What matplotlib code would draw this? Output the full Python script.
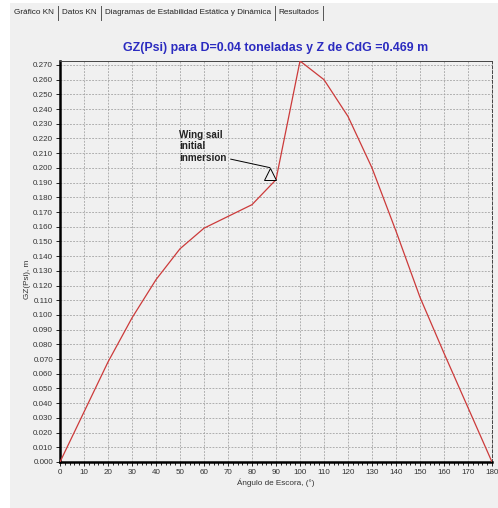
import matplotlib
matplotlib.use("Agg")
import matplotlib.pyplot as plt
import numpy as np
from matplotlib.lines import Line2D
from matplotlib.patches import Rectangle
from matplotlib.ticker import MultipleLocator, FormatStrFormatter
from matplotlib.transforms import offset_copy

plt.rcParams['font.family'] = ['Liberation Sans', 'DejaVu Sans']

# heel angle (deg) and righting arm GZ (m)
angles = [0, 10, 20, 30, 40, 50, 60, 70, 80, 90, 100, 110, 120, 130, 140, 150, 160, 170, 180]
gz = [0.000, 0.034, 0.068, 0.098, 0.124, 0.145, 0.159, 0.167, 0.175, 0.192,
      0.2727, 0.260, 0.235, 0.200, 0.157, 0.112, 0.074, 0.037, 0.000]

tabs = ["Gráfico KN", "Datos KN", "Diagramas de Estabilidad Estática y Dinámica", "Resultados"]
title_str = "GZ(Psi) para D=0.04 toneladas y Z de CdG =0.469 m"
note_str = "Wing sail\ninitial\ninmersion"
note_idx = 9

W, H = 498, 508
fig = plt.figure(figsize=(W / 100, H / 100), dpi=100, facecolor='white')

# grey panel behind everything
fig.add_artist(Rectangle((10 / W, 0), 1 - 10 / W, 1 - 3 / H, transform=fig.transFigure,
                         facecolor='#f0f0f0', edgecolor='none', zorder=-10))

# tab strip
x_px = 14
for t in tabs:
    txt = fig.text(x_px / W, 1 - 13 / H, t, fontsize=5.9, color='#222222', va='center', ha='left')
    fig.canvas.draw()
    bb = txt.get_window_extent()
    x_px = bb.x1 + 4
    fig.add_artist(Line2D([x_px / W, x_px / W], [1 - 6 / H, 1 - 20 / H], transform=fig.transFigure,
                          color='#555555', lw=0.7))
    x_px += 4

ax = fig.add_axes([60 / W, 1 - 462 / H, (492 - 60) / W, (462 - 61) / H])
ax.set_facecolor('none')

ax.plot(angles, gz, color='#cc3a3a', lw=0.9, zorder=3)

ax.set_xlim(0, 180)
ax.set_ylim(0, 0.2727)
ax.xaxis.set_major_locator(MultipleLocator(10))
ax.xaxis.set_minor_locator(MultipleLocator(2))
ax.yaxis.set_major_locator(MultipleLocator(0.01))
ax.yaxis.set_major_formatter(FormatStrFormatter('%.3f'))

ax.grid(True, which='major', color='#a4a4a4', ls=(0, (2.2, 1.6)), lw=0.6)
ax.tick_params(axis='both', which='major', labelsize=5.8, labelcolor='#333333', length=3, width=0.6, pad=2)
ax.tick_params(axis='x', which='minor', length=2, width=0.6)
ax.tick_params(axis='y', which='minor', left=False)

ax.spines['left'].set_linewidth(1.8)
ax.spines['bottom'].set_linewidth(1.8)
ax.spines['top'].set_linewidth(0.7)
ax.spines['top'].set_color('#444444')
ax.spines['right'].set_linewidth(0.7)
ax.spines['right'].set_color('#444444')
ax.spines['right'].set_linestyle((0, (3, 2)))

ax.set_title(title_str, fontsize=8.9, fontweight='bold', color='#2b2bc0', pad=7)
ax.set_xlabel("Ángulo de Escora, (°)", fontsize=5.9, color='#333333', labelpad=2)
ax.set_ylabel("GZ(Psi), m", fontsize=5.9, color='#333333')
ax.yaxis.set_label_coords(-0.066, 0.455)

# annotation: hollow triangle sitting on the point, leader line to its apex
px, py = angles[note_idx], gz[note_idx]
tri_tr = offset_copy(ax.transData, fig=fig, x=-6, y=6, units='dots')
ax.plot([px], [py], marker='^', ms=8.6, mfc='#f0f0f0', mec='black', mew=0.7,
        transform=tri_tr, zorder=5, clip_on=False)
apex_tr = offset_copy(ax.transData, fig=fig, x=-6, y=12, units='dots')
ax.annotate(note_str, xy=(px, py), xycoords=apex_tr, xytext=(49.6, 0.226), textcoords='data',
            fontsize=7.1, fontweight='bold', color='#222222', va='top', ha='left', linespacing=1.2,
            arrowprops=dict(arrowstyle='-', color='black', lw=0.7, relpos=(0.97, 0.15),
                            shrinkA=1, shrinkB=0))

fig.savefig("out.png", dpi=100, facecolor=fig.get_facecolor())
